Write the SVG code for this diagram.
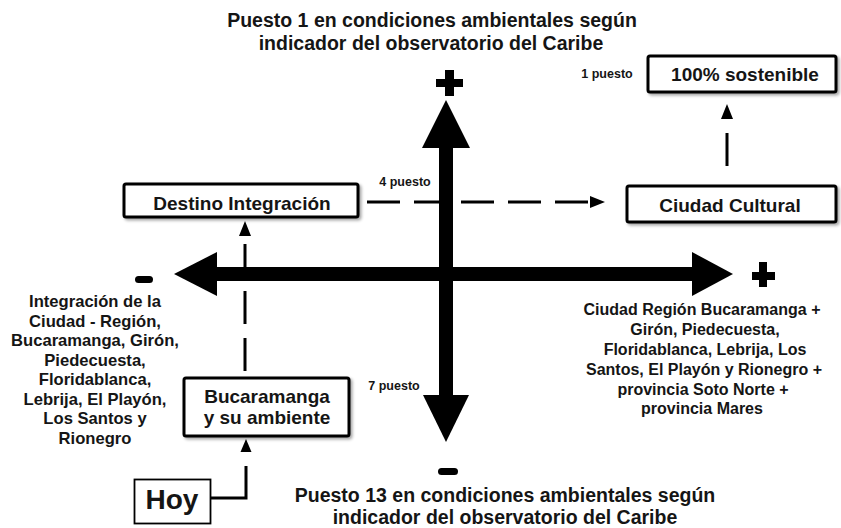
<svg xmlns="http://www.w3.org/2000/svg" width="841" height="528" viewBox="0 0 841 528">
<defs>
<style>
text{font-family:"Liberation Sans",Arial,sans-serif;fill:#151515;font-weight:bold}
.title{font-size:19.5px;text-anchor:middle}
.desc{font-size:16px;text-anchor:middle}
.ldesc{font-size:16.6px;text-anchor:middle}
.box{fill:#fff;stroke:#000;stroke-width:3}
.btxt{font-size:19px;text-anchor:middle}
.small{font-size:12.5px;text-anchor:middle}
.dash{fill:none;stroke:#000;stroke-width:3;stroke-dasharray:33 14}
.solid{fill:none;stroke:#000;stroke-width:3}
.axis{fill:#000}
</style>
<filter id="sh" x="-10%" y="-20%" width="130%" height="150%">
<feDropShadow dx="2" dy="2" stdDeviation="1.5" flood-color="#000" flood-opacity="0.35"/>
</filter>
<marker id="ah" markerWidth="5" markerHeight="4" refX="0" refY="2" orient="auto" markerUnits="strokeWidth">
<path d="M0,0 L5,2 L0,4 Z" fill="#000"/>
</marker>
</defs>
<rect width="841" height="528" fill="#fff"/>

<g id="titles">
<text class="title" x="432" y="27">Puesto 1 en condiciones ambientales según</text>
<text class="title" x="431" y="50">indicador del observatorio del Caribe</text>
<text class="title" x="505" y="502">Puesto 13 en condiciones ambientales según</text>
<text class="title" x="505" y="524">indicador del observatorio del Caribe</text>
</g>

<g id="axes">
<rect class="axis" x="439" y="140" width="14" height="260"/>
<polygon class="axis" points="446,100 422,148 470,148"/>
<polygon class="axis" points="446,442 423,395 469,395"/>
<rect class="axis" x="212" y="267" width="485" height="14"/>
<polygon class="axis" points="174,274 217,252 217,296"/>
<polygon class="axis" points="733,274 692,252 692,296"/>
<rect class="axis" x="436" y="79" width="27" height="8"/>
<rect class="axis" x="445" y="70" width="9" height="26"/>
<rect class="axis" x="752" y="272" width="23" height="8"/>
<rect class="axis" x="759" y="262" width="8" height="25"/>
<rect class="axis" x="135" y="276" width="18" height="7" rx="3.5"/>
<rect class="axis" x="438" y="468" width="20" height="7" rx="3.5"/>
</g>

<g id="connectors">
<path class="dash" d="M367,202 H590" marker-end="url(#ah)"/>
<path class="dash" d="M727,166 V119" marker-end="url(#ah)"/>
<path class="dash" d="M245,371 V236" marker-end="url(#ah)"/>
<path class="solid" d="M211,498 H246 V466"/>
<polygon points="246,439 240.5,452 251.5,452" fill="#000"/>
</g>

<g id="labels">
<text class="small" x="607" y="78">1 puesto</text>
<text class="small" x="405" y="186">4 puesto</text>
<text class="small" x="394" y="390">7 puesto</text>
</g>

<g id="left-desc">
<text class="ldesc" x="95" y="307">Integración de la</text>
<text class="ldesc" x="95" y="327">Ciudad - Región,</text>
<text class="ldesc" x="95" y="346">Bucaramanga, Girón,</text>
<text class="ldesc" x="95" y="366">Piedecuesta,</text>
<text class="ldesc" x="95" y="385">Floridablanca,</text>
<text class="ldesc" x="95" y="405">Lebrija, El Playón,</text>
<text class="ldesc" x="95" y="424">Los Santos y</text>
<text class="ldesc" x="95" y="444">Rionegro</text>
</g>

<g id="right-desc">
<text class="desc" x="702" y="315">Ciudad Región Bucaramanga +</text>
<text class="desc" x="705" y="335">Girón, Piedecuesta,</text>
<text class="desc" x="705" y="355">Floridablanca, Lebrija, Los</text>
<text class="desc" x="704" y="375">Santos, El Playón y Rionegro +</text>
<text class="desc" x="703" y="395">provincia Soto Norte +</text>
<text class="desc" x="702" y="414">provincia Mares</text>
</g>

<g id="node-sostenible">
<rect class="box" x="648" y="56" width="188" height="36" rx="2" filter="url(#sh)"/>
<text class="btxt" x="745" y="81">100% sostenible</text>
</g>

<g id="node-cultural">
<rect class="box" x="627" y="186" width="209" height="36" rx="2" filter="url(#sh)"/>
<text class="btxt" x="730" y="212">Ciudad Cultural</text>
</g>

<g id="node-destino">
<rect class="box" x="124" y="184" width="234" height="33" rx="2" filter="url(#sh)"/>
<text class="btxt" x="242" y="210">Destino Integración</text>
</g>

<g id="node-bucaramanga">
<rect class="box" x="184" y="378" width="165" height="58" rx="2" filter="url(#sh)"/>
<text class="btxt" x="267" y="403">Bucaramanga</text>
<text class="btxt" x="267" y="424">y su ambiente</text>
</g>

<g id="node-hoy">
<rect x="134.5" y="479.5" width="76" height="44" fill="#fff" stroke="#000" stroke-width="1.8"/>
<text x="172" y="509" style="font-size:28px;text-anchor:middle">Hoy</text>
</g>
</svg>
